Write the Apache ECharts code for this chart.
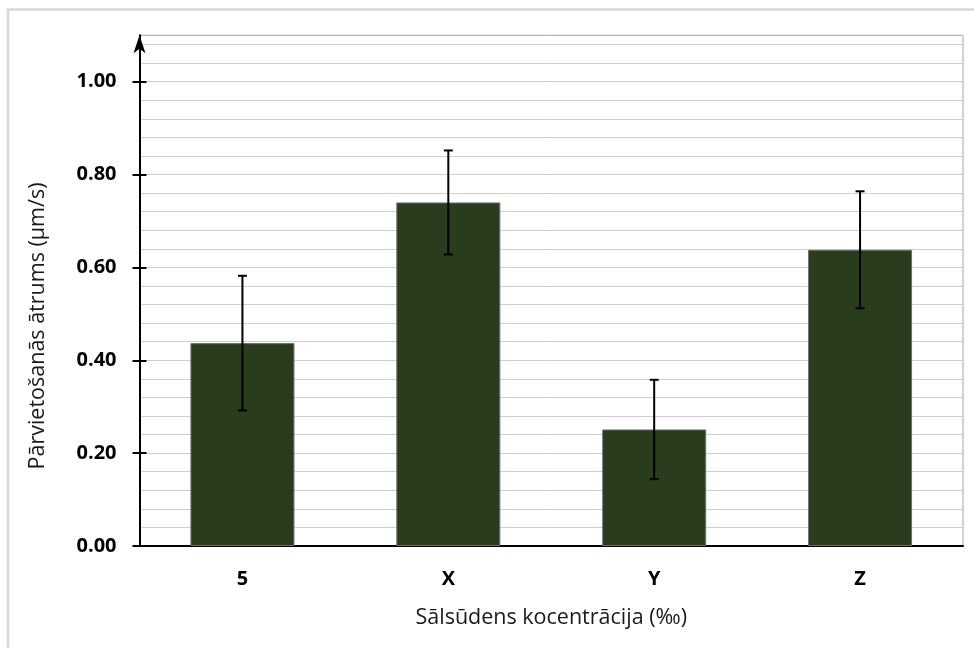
<!DOCTYPE html>
<html>
<head>
<meta charset="utf-8">
<title>Pārvietošanās ātrums</title>
<script src="https://cdn.jsdelivr.net/npm/echarts@6/dist/echarts.min.js"></script>
<style>
  html, body { margin: 0; padding: 0; background: #fff; }
  #chart { width: 974px; height: 648px; }
</style>
</head>
<body>
<div id="chart"></div>
<script>
// Salinity groups and mean displacement speed with its spread
const categories = ['5', 'X', 'Y', 'Z'];
const speeds = [0.437, 0.740, 0.251, 0.638];
const errors = [0.145, 0.112, 0.107, 0.126];
const yTickValues = [0, 0.2, 0.4, 0.6, 0.8, 1.0];

const FONT = '"Open Sans", "Noto Sans", sans-serif';

const chart = echarts.init(document.getElementById('chart'), null, { renderer: 'canvas' });

const errorData = categories.map((c, i) => [i, speeds[i] - errors[i], speeds[i] + errors[i]]);

function renderErrorBar(params, api) {
  const x = api.value(0);
  const lo = api.coord([x, api.value(1)]);
  const hi = api.coord([x, api.value(2)]);
  const half = 4.5;
  const style = { stroke: '#000', lineWidth: 2 };
  return {
    type: 'group',
    children: [
      { type: 'line', shape: { x1: hi[0], y1: hi[1], x2: lo[0], y2: lo[1] }, style },
      { type: 'line', shape: { x1: hi[0] - half, y1: hi[1], x2: hi[0] + half, y2: hi[1] }, style },
      { type: 'line', shape: { x1: lo[0] - half, y1: lo[1], x2: lo[0] + half, y2: lo[1] }, style }
    ]
  };
}

const option = {
  backgroundColor: '#fff',
  animation: false,
  grid: {
    left: 139.5, right: 11, top: 35.3, bottom: 102,
    show: true, borderColor: '#a6a6a6', borderWidth: 1, backgroundColor: 'transparent'
  },
  graphic: [
    {
      type: 'rect', silent: true, z: -1,
      shape: { x: 8, y: 9.5, width: 990, height: 660 },
      style: { fill: 'none', stroke: '#d9d9d9', lineWidth: 2.5 }
    },
    {
      type: 'text', silent: true,
      x: 38, y: 326, rotation: Math.PI / 2,
      style: {
        text: 'Pārvietošanās ātrums (µm/s)',
        font: '21.5px ' + FONT, fill: '#1a1a1a',
        align: 'center', verticalAlign: 'middle'
      }
    }
  ],
  xAxis: {
    type: 'category',
    data: categories,
    name: 'Sālsūdens kocentrācija (‰)',
    nameLocation: 'middle',
    nameGap: 61,
    nameTextStyle: { fontFamily: FONT, fontSize: 21.5, color: '#1a1a1a' },
    axisLine: { lineStyle: { color: '#000', width: 2 } },
    axisTick: { show: false },
    axisLabel: { fontFamily: FONT, fontSize: 20, fontWeight: 'bold', color: '#000', margin: 23 },
    splitLine: { show: false }
  },
  yAxis: [
    {
      // labelled axis with arrow and outward ticks
      type: 'value', min: 0, max: 1.1, interval: 0.2, position: 'left',
      axisLine: {
        show: true, lineStyle: { color: '#000', width: 2 },
        symbol: ['none', 'arrow'], symbolSize: [9, 18], symbolOffset: [0, 0]
      },
      axisTick: { show: true, customValues: yTickValues, length: 7, lineStyle: { color: '#000', width: 2 } },
      axisLabel: {
        customValues: yTickValues,
        formatter: v => v.toFixed(2),
        fontFamily: FONT, fontSize: 20, fontWeight: 'bold', color: '#000', margin: 23
      },
      splitLine: { show: false },
      z: 5
    },
    {
      // fine gridlines
      type: 'value', min: 0, max: 1.1, interval: 0.04, position: 'left',
      axisLine: { show: false },
      axisTick: { show: false },
      axisLabel: { show: false },
      splitLine: { show: true, showMinLine: false, showMaxLine: false, lineStyle: { color: '#cfcfcf', width: 1 } }
    },
    {
      // inward half of the crossing ticks
      type: 'value', min: 0, max: 1.1, interval: 0.2, position: 'left',
      axisLine: { show: false },
      axisTick: { show: true, inside: true, customValues: yTickValues, length: 7, lineStyle: { color: '#000', width: 2 } },
      axisLabel: { show: false },
      splitLine: { show: false },
      z: 5
    }
  ],
  series: [
    {
      type: 'bar',
      data: speeds,
      yAxisIndex: 0,
      barWidth: 104,
      itemStyle: { color: '#293c1d', borderColor: '#6e6e6e', borderWidth: 1 },
      z: 2
    },
    {
      type: 'custom',
      data: errorData,
      yAxisIndex: 0,
      renderItem: renderErrorBar,
      encode: { x: 0, y: [1, 2] },
      z: 3
    }
  ]
};

chart.setOption(option);
</script>
</body>
</html>
